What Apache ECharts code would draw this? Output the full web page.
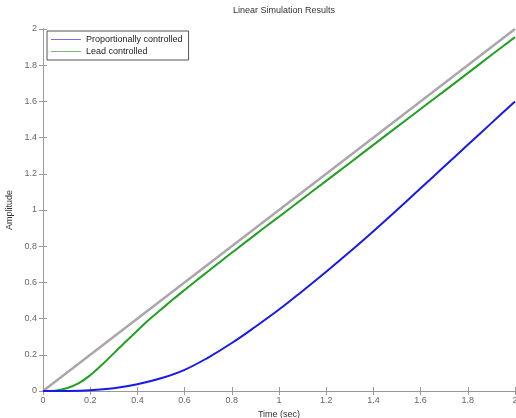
<!DOCTYPE html>
<html>
<head>
<meta charset="utf-8">
<script src="https://cdn.jsdelivr.net/npm/echarts@6/dist/echarts.min.js"></script>
<style>
  html, body { margin: 0; padding: 0; background: #fff; }
  #main { width: 516px; height: 418px; }
</style>
</head>
<body>
<div id="main"></div>
<script>
// time points and responses
let refTime = [0, 2]
let refValue = [0, 2]

let propTime = [0, 0.1, 0.2, 0.3, 0.4, 0.5, 0.6, 0.7, 0.8, 0.9, 1.0, 1.1, 1.2, 1.3, 1.4, 1.5, 1.6, 1.7, 1.8, 1.9, 2.0]
let propValue = [0, 0.0005, 0.004, 0.015, 0.037, 0.07, 0.117, 0.185, 0.265, 0.355, 0.45, 0.553, 0.659, 0.769, 0.883, 1.0, 1.12, 1.24, 1.36, 1.48, 1.6]

let leadTime = [0, 0.05, 0.1, 0.15, 0.2, 0.25, 0.3, 0.35, 0.4, 0.45, 0.5, 0.55, 0.6, 0.65, 0.7, 0.75, 0.8, 0.85, 0.9, 0.95, 1.0, 1.1, 1.2, 1.3, 1.4, 1.5, 1.6, 1.7, 1.8, 1.9, 2.0]
let leadValue = [0, 0.002, 0.015, 0.042, 0.087, 0.145, 0.208, 0.272, 0.334, 0.395, 0.45, 0.505, 0.558, 0.61, 0.662, 0.713, 0.764, 0.814, 0.864, 0.914, 0.963, 1.062, 1.161, 1.26, 1.36, 1.459, 1.558, 1.657, 1.756, 1.856, 1.955]

let seriesNames = ["Proportionally controlled", "Lead controlled"]
let legendColors = ['#7070f0', '#70c070']

function pairs(xs, ys) {
    return xs.map((x, i) => [x, ys[i]])
}

var myChart = echarts.init(document.getElementById('main'))

var axisCommon = {
    type: 'value',
    min: 0,
    max: 2,
    interval: 0.2,
    axisLine: { show: true, lineStyle: { color: '#999', width: 1 } },
    axisTick: { show: true, inside: true, length: 4, lineStyle: { color: '#999' } },
    splitLine: { show: false }
}

var option = {
    animation: false,
    backgroundColor: '#fff',
    title: {
        text: 'Linear Simulation Results',
        left: 279,
        textAlign: 'center',
        top: 1,
        textStyle: { fontSize: 9, fontWeight: 'normal', color: '#333', fontFamily: 'Liberation Sans' }
    },
    legend: {
        orient: 'vertical',
        left: 47,
        top: 31,
        data: seriesNames.map((n, i) => ({
            name: n,
            itemStyle: { color: legendColors[i], borderWidth: 0 },
            lineStyle: { color: legendColors[i], width: 1 }
        })),
        icon: 'rect',
        itemStyle: { borderWidth: 0 },
        lineStyle: { width: 1 },
        itemWidth: 30,
        itemHeight: 1,
        itemGap: 3,
        padding: [4, 6, 4, 4],
        borderColor: '#555',
        borderWidth: 1,
        backgroundColor: '#fff',
        textStyle: { fontSize: 9, color: '#222', fontFamily: 'Liberation Sans' }
    },
    grid: { left: 43, right: 1, top: 29, bottom: 27, outerBoundsMode: 'none', containLabel: false },
    xAxis: [
        Object.assign({}, axisCommon, {
            name: 'Time (sec)',
            nameLocation: 'middle',
            nameGap: 14,
            nameTextStyle: { fontSize: 9, color: '#333', fontFamily: 'Liberation Sans' },
            axisLabel: { fontSize: 9, color: '#666', margin: 5, fontFamily: 'Liberation Sans' }
        }),
        Object.assign({}, axisCommon, { position: 'top', axisLabel: { show: false } })
    ],
    yAxis: [
        Object.assign({}, axisCommon, {
            name: 'Amplitude',
            nameLocation: 'middle',
            nameGap: 28,
            nameTextStyle: { fontSize: 9, color: '#333', fontFamily: 'Liberation Sans' },
            axisLabel: { fontSize: 9, color: '#666', margin: 6, fontFamily: 'Liberation Sans' }
        }),
        Object.assign({}, axisCommon, { position: 'right', axisLabel: { show: false } })
    ],
    series: [
        {
            name: 'input',
            type: 'line',
            data: pairs(refTime, refValue),
            showSymbol: false,
            lineStyle: { color: '#aca6ac', width: 2.5 },
            itemStyle: { color: '#aca6ac' },
            z: 1
        },
        {
            name: seriesNames[0],
            type: 'line',
            data: pairs(propTime, propValue),
            smooth: 0.4,
            showSymbol: false,
            lineStyle: { color: '#1a1ae6', width: 2 },
            itemStyle: { color: legendColors[0] },
            z: 3
        },
        {
            name: seriesNames[1],
            type: 'line',
            data: pairs(leadTime, leadValue),
            smooth: 0.4,
            showSymbol: false,
            lineStyle: { color: '#22a022', width: 2 },
            itemStyle: { color: legendColors[1] },
            z: 2
        }
    ]
}

myChart.setOption(option)
</script>
</body>
</html>
